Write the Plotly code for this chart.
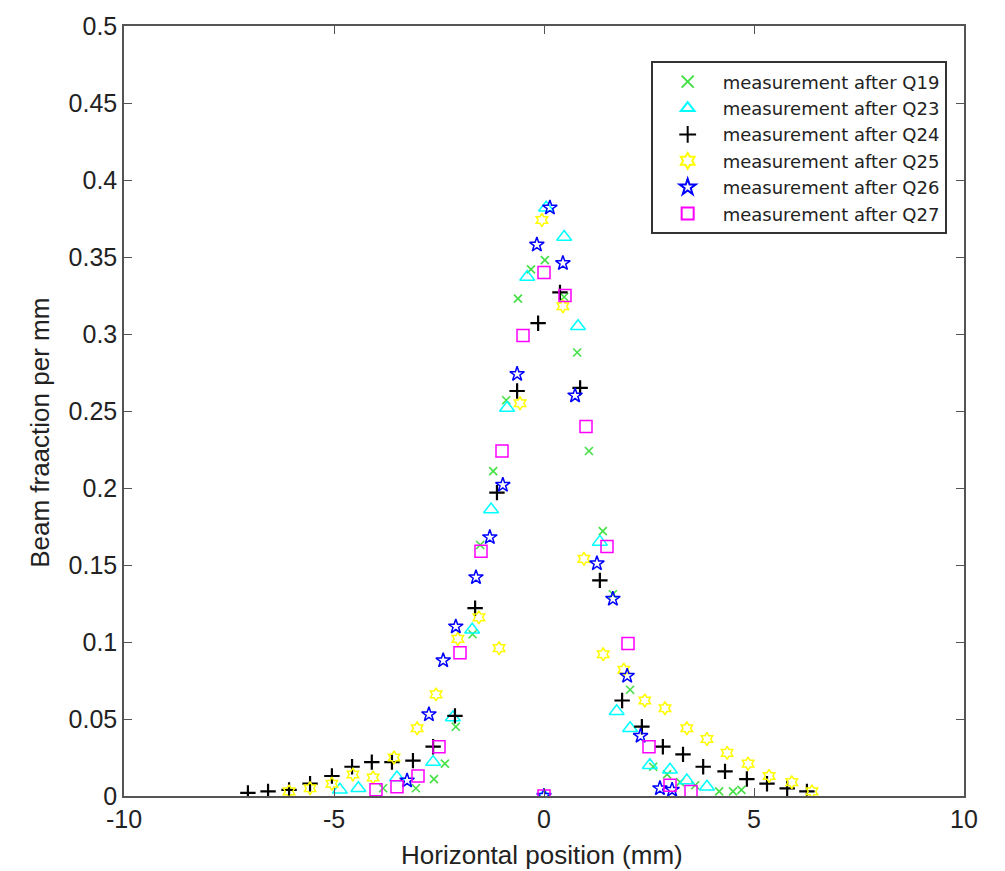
import plotly.graph_objects as go

# Q19 (green x)
q19_x = [-3.83, -3.05, -2.62, -2.36, -2.1, -1.7, -1.52, -1.21, -0.9, -0.62, -0.31, 0.02, 0.48, 0.79, 1.07, 1.4, 1.64, 2.05, 2.6, 2.93, 3.24, 3.6, 4.17, 4.5, 4.7]
q19_y = [0.005, 0.005, 0.011, 0.021, 0.045, 0.105, 0.163, 0.211, 0.257, 0.323, 0.342, 0.348, 0.324, 0.288, 0.224, 0.172, 0.131, 0.069, 0.019, 0.014, 0.009, 0.007, 0.003, 0.003, 0.004]
# Q23 (cyan triangles)
q23_x = [-4.86, -4.42, -3.5, -2.64, -2.17, -1.71, -1.26, -0.88, -0.4, 0.0, 0.05, 0.48, 0.81, 1.33, 1.73, 2.05, 2.52, 3.0, 3.4, 3.88]
q23_y = [0.004, 0.005, 0.012, 0.022, 0.051, 0.108, 0.186, 0.252, 0.337, 0.0, 0.382, 0.363, 0.305, 0.165, 0.055, 0.044, 0.02, 0.017, 0.01, 0.006]
# Q24 (black plus)
q24_x = [-7.05, -6.57, -6.07, -5.57, -5.05, -4.57, -4.1, -3.62, -3.12, -2.64, -2.12, -1.64, -1.12, -0.64, -0.14, 0.38, 0.86, 1.33, 1.86, 2.33, 2.83, 3.31, 3.79, 4.31, 4.83, 5.31, 5.79, 6.26]
q24_y = [0.002, 0.003, 0.004, 0.008, 0.013, 0.019, 0.022, 0.022, 0.023, 0.032, 0.052, 0.122, 0.197, 0.263, 0.307, 0.327, 0.265, 0.14, 0.062, 0.045, 0.032, 0.027, 0.019, 0.016, 0.011, 0.008, 0.005, 0.003]
# Q25 (yellow hexagram)
q25_x = [-6.07, -5.57, -5.05, -4.55, -4.07, -3.57, -3.02, -2.57, -2.05, -1.55, -1.07, -0.57, -0.05, 0.45, 0.95, 1.41, 1.9, 2.4, 2.88, 3.4, 3.88, 4.36, 4.86, 5.36, 5.9, 6.38]
q25_y = [0.003, 0.005, 0.008, 0.014, 0.012, 0.025, 0.044, 0.066, 0.102, 0.116, 0.096, 0.255, 0.374, 0.318, 0.154, 0.092, 0.082, 0.062, 0.057, 0.044, 0.037, 0.028, 0.021, 0.013, 0.009, 0.003]
# Q26 (blue star)
q26_x = [-3.26, -2.74, -2.4, -2.1, -1.62, -1.29, -0.98, -0.64, -0.17, 0.0, 0.14, 0.45, 0.74, 1.26, 1.64, 1.98, 2.3, 2.76, 3.05]
q26_y = [0.01, 0.053, 0.088, 0.11, 0.142, 0.168, 0.202, 0.274, 0.358, 0.0, 0.382, 0.346, 0.26, 0.151, 0.128, 0.078, 0.039, 0.005, 0.004]
# Q27 (magenta squares)
q27_x = [-4.0, -3.5, -3.0, -2.5, -2.0, -1.5, -1.0, -0.5, 0.0, 0.0, 0.5, 1.0, 1.5, 2.0, 2.5, 3.0, 3.5]
q27_y = [0.004, 0.006, 0.013, 0.032, 0.093, 0.159, 0.224, 0.299, 0.34, 0.0, 0.325, 0.24, 0.162, 0.099, 0.032, 0.007, 0.003]

x_ticks = [-10, -5, 0, 5, 10]
x_tick_labels = ["-10", "-5", "0", "5", "10"]
y_ticks = [0, 0.05, 0.1, 0.15, 0.2, 0.25, 0.3, 0.35, 0.4, 0.45, 0.5]
y_tick_labels = ["0", "0.05", "0.1", "0.15", "0.2", "0.25", "0.3", "0.35", "0.4", "0.45", "0.5"]

series = [
    ("measurement after Q19", q19_x, q19_y, "x-thin-open", "#44e044", 8, 1.6),
    ("measurement after Q23", q23_x, q23_y, "triangle-up-open", "#00ffff", 13, 1.5),
    ("measurement after Q24", q24_x, q24_y, "cross-thin-open", "#000000", 11, 2.2),
    ("measurement after Q25", q25_x, q25_y, "hexagram-open", "#ffff00", 10, 1.5),
    ("measurement after Q26", q26_x, q26_y, "star-open", "#0000ff", 11, 1.5),
    ("measurement after Q27", q27_x, q27_y, "square-open", "#ff00ff", 12, 1.5),
]

fig = go.Figure()
for name, xs, ys, sym, col, sz, lw in series:
    fig.add_trace(go.Scatter(
        x=xs, y=ys, mode="markers", name=name,
        marker=dict(symbol=sym, color=col, size=sz, line=dict(color=col, width=lw)),
    ))

font_family = "Liberation Sans, Arial, sans-serif"
fig.update_layout(
    width=1005, height=871,
    margin=dict(l=124, r=41, t=20, b=75),
    paper_bgcolor="white", plot_bgcolor="white",
    font=dict(family=font_family, color="#222222", size=24),
    showlegend=True,
    legend=dict(
        x=0.627, y=0.954, xanchor="left", yanchor="top",
        bgcolor="white", bordercolor="#333333", borderwidth=2,
        font=dict(size=18, family="DejaVu Sans, sans-serif", color="#222222"),
        tracegroupgap=0, itemsizing="constant", itemwidth=60,
    ),
    xaxis=dict(
        range=[-10, 10], tickvals=x_ticks, ticktext=x_tick_labels,
        ticks="inside", ticklen=8, tickcolor="#555555", showgrid=False, zeroline=False,
        showline=True, linecolor="#555555", linewidth=1.5, mirror="ticks",
        tickfont=dict(size=25),
    ),
    yaxis=dict(
        range=[0, 0.5], tickvals=y_ticks, ticktext=y_tick_labels,
        ticks="inside", ticklen=8, tickcolor="#555555", showgrid=False, zeroline=False,
        showline=True, linecolor="#555555", linewidth=1.5, mirror="ticks",
        tickfont=dict(size=25),
    ),
    annotations=[
        dict(text="Horizontal position (mm)", xref="paper", yref="paper",
             x=0.498, y=-0.076, xanchor="center", yanchor="middle",
             showarrow=False, font=dict(size=26)),
        dict(text="Beam fraaction per mm", xref="paper", yref="paper",
             x=-0.1, y=0.4716, xanchor="center", yanchor="middle", textangle=-90,
             showarrow=False, font=dict(size=26)),
    ],
)

fig.write_html("out.html")
